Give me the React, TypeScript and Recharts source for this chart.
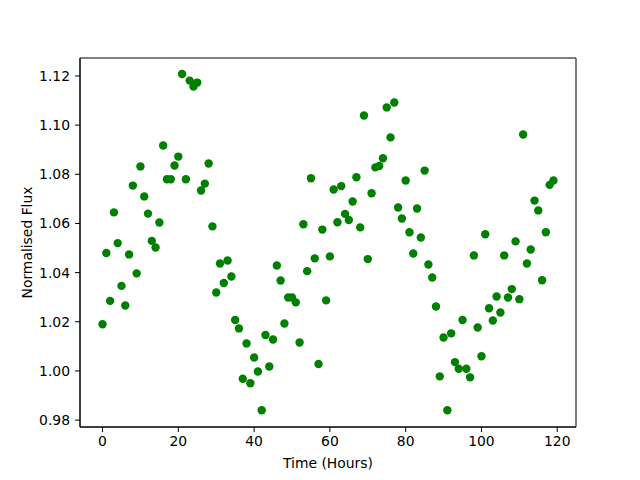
import React from "react";
import { ScatterChart, Scatter, XAxis, YAxis, ReferenceArea } from "recharts";

const hours = [
  0, 1, 2, 3, 4, 5, 6, 7, 8, 9,
  10, 11, 12, 13, 14, 15, 16, 17, 18, 19,
  20, 21, 22, 23, 24, 25, 26, 27, 28, 29,
  30, 31, 32, 33, 34, 35, 36, 37, 38, 39,
  40, 41, 42, 43, 44, 45, 46, 47, 48, 49,
  50, 51, 52, 53, 54, 55, 56, 57, 58, 59,
  60, 61, 62, 63, 64, 65, 66, 67, 68, 69,
  70, 71, 72, 73, 74, 75, 76, 77, 78, 79,
  80, 81, 82, 83, 84, 85, 86, 87, 88, 89,
  90, 91, 92, 93, 94, 95, 96, 97, 98, 99,
  100, 101, 102, 103, 104, 105, 106, 107, 108, 109,
  110, 111, 112, 113, 114, 115, 116, 117, 118, 119,
];

const flux = [
  1.019, 1.048, 1.0285, 1.0645, 1.052, 1.0346, 1.0266, 1.0474, 1.0754, 1.0397,
  1.0832, 1.071, 1.064, 1.0529, 1.0502, 1.0604, 1.0917, 1.078, 1.078, 1.0836,
  1.0872, 1.1208, 1.078, 1.1181, 1.1157, 1.1173, 1.0734, 1.0762, 1.0844, 1.0588,
  1.0319, 1.0437, 1.0358, 1.0449, 1.0384, 1.0207, 1.0173, 0.9968, 1.0112, 0.995,
  1.0055, 0.9998, 0.984, 1.0146, 1.0018, 1.0128, 1.0429, 1.0368, 1.0193, 1.0299,
  1.0299, 1.0279, 1.0116, 1.0597, 1.0406, 1.0784, 1.0458, 1.0028, 1.0575, 1.0287,
  1.0466, 1.0738, 1.0605, 1.0752, 1.0639, 1.0614, 1.0689, 1.0788, 1.0584, 1.1039,
  1.0455, 1.0723, 1.0828, 1.0834, 1.0865, 1.1072, 1.095, 1.1092, 1.0665, 1.062,
  1.0775, 1.0564, 1.0478, 1.0661, 1.0543, 1.0815, 1.0433, 1.038, 1.0262, 0.9978,
  1.0136, 0.984, 1.0153, 1.0036, 1.0009, 1.0207, 1.0009, 0.9974, 1.047, 1.0177,
  1.006, 1.0556, 1.0255, 1.0205, 1.0303, 1.0238, 1.047, 1.0299, 1.0333, 1.0527,
  1.0292, 1.0962, 1.0437, 1.0494, 1.0693, 1.0653, 1.0369, 1.0564, 1.0757, 1.0775,
];

const xTicks = [0, 20, 40, 60, 80, 100, 120];
const yTicks = [0.98, 1.0, 1.02, 1.04, 1.06, 1.08, 1.1, 1.12];
const xDomain: [number, number] = [-5.95, 124.95];
const yDomain: [number, number] = [0.9772, 1.1273];

const data = hours.map((h, i) => ({ t: h, f: flux[i] }));

const FONT = "DejaVu Sans";
const tickStyle = { fill: "#000", fontSize: 13.9, fontFamily: FONT };

const Dot = (props: any) => (
  <circle cx={props.cx} cy={props.cy} r={4.2} fill="#008000" />
);

export default function App() {
  return (
    <div style={{ position: "absolute", left: 0, top: 0, width: 640, height: 480, background: "#fff" }}>
      <ScatterChart
        width={640}
        height={480}
        margin={{ top: 58, right: 64, bottom: 0, left: 0 }}
      >
        <XAxis
          type="number"
          dataKey="t"
          domain={xDomain}
          ticks={xTicks}
          allowDataOverflow
          height={53}
          tickSize={5}
          tickMargin={4}
          tick={tickStyle}
          axisLine={{ stroke: "#000", strokeWidth: 1 }}
          tickLine={{ stroke: "#000", strokeWidth: 1 }}
          label={{
            value: "Time (Hours)",
            position: "insideBottom",
            offset: 12,
            style: { fill: "#000", fontSize: 13.9, fontFamily: FONT },
          }}
        />
        <YAxis
          type="number"
          dataKey="f"
          domain={yDomain}
          ticks={yTicks}
          allowDataOverflow
          width={80}
          tickSize={5}
          tickMargin={5}
          tick={tickStyle}
          tickFormatter={(v: number) => v.toFixed(2)}
          axisLine={{ stroke: "#000", strokeWidth: 1 }}
          tickLine={{ stroke: "#000", strokeWidth: 1 }}
          label={{
            value: "Normalised Flux",
            angle: -90,
            position: "insideLeft",
            offset: 27,
            style: { textAnchor: "middle", fill: "#000", fontSize: 13.9, fontFamily: FONT },
          }}
        />
        <ReferenceArea
          x1={xDomain[0]}
          x2={xDomain[1]}
          y1={yDomain[0]}
          y2={yDomain[1]}
          fill="none"
          fillOpacity={0}
          stroke="#000"
          strokeWidth={1}
          ifOverflow="extendDomain"
        />
        <Scatter data={data} shape={Dot} isAnimationActive={false} />
      </ScatterChart>
    </div>
  );
}
